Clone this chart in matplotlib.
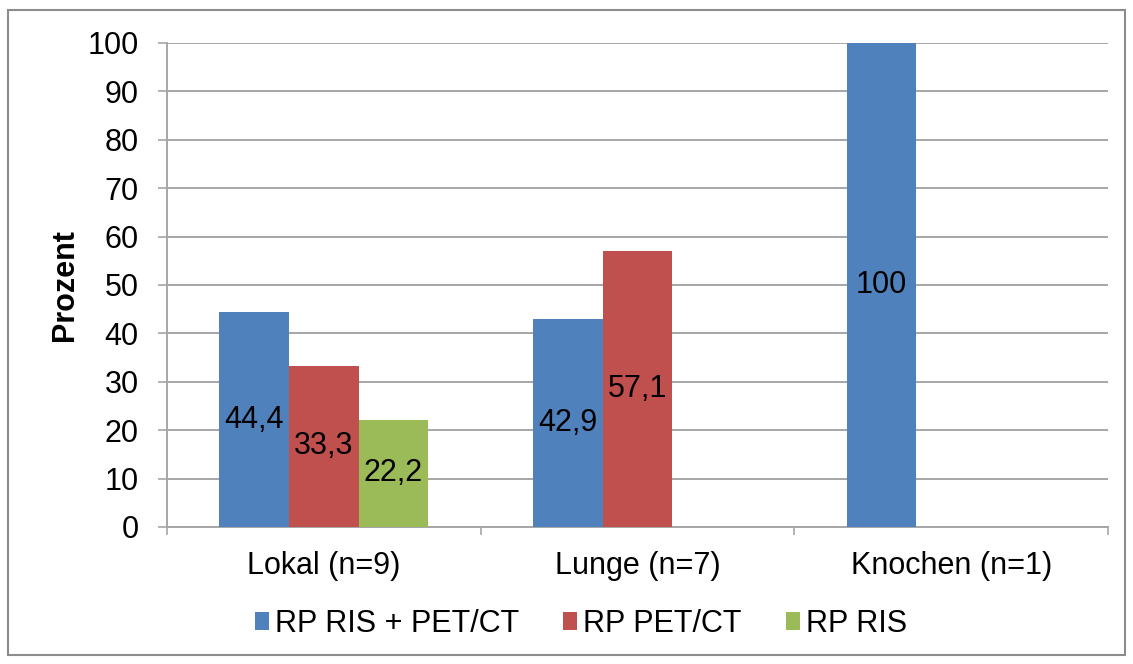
import numpy as np
import matplotlib
matplotlib.use("Agg")
import matplotlib.pyplot as plt
from matplotlib.patches import Rectangle, Patch
from matplotlib.ticker import FixedLocator

plt.rcParams['font.family'] = ['Liberation Sans', 'DejaVu Sans']

categories = ["Lokal (n=9)", "Lunge (n=7)", "Knochen (n=1)"]
series_names = ["RP RIS + PET/CT", "RP PET/CT", "RP RIS"]
values_ris_petct = [44.4, 42.9, 100.0]
values_petct = [33.3, 57.1, np.nan]
values_ris = [22.2, np.nan, np.nan]
y_ticks = [0, 10, 20, 30, 40, 50, 60, 70, 80, 90, 100]
y_label = "Prozent"

colors = ["#4F81BD", "#C0504D", "#9BBB59"]
series = [values_ris_petct, values_petct, values_ris]
FS = 22

fig = plt.figure(figsize=(11.33, 6.64), dpi=100)
ax = fig.add_axes([167/1133, 1-527/664, (1108-167)/1133, (527-43)/664])

x = np.arange(len(categories))
width = 1/4.5
offsets = [-width, 0, width]
for vals, col, off, name in zip(series, colors, offsets, series_names):
    bars = ax.bar(x + off, vals, width=width, color=col, label=name, zorder=3)
    labels = []
    for v in vals:
        if np.isnan(v):
            labels.append("")
        elif float(v).is_integer():
            labels.append(f"{int(v)}")
        else:
            labels.append(f"{v:.1f}".replace(".", ","))
    ax.bar_label(bars, labels=labels, label_type='center', fontsize=FS, color='black', zorder=4)

ax.set_xlim(-0.5, len(categories) - 0.5)
ax.set_ylim(0, 100)
ax.set_yticks(y_ticks)
ax.set_yticklabels([str(t) for t in y_ticks])
ax.set_xticks(x)
ax.set_xticklabels(categories)
ax.xaxis.set_minor_locator(FixedLocator(np.arange(-0.5, len(categories), 1.0)))

ax.grid(axis='y', color='#A6A6A6', linewidth=1.4, zorder=0)
ax.set_axisbelow(True)
for s in ['top', 'right']:
    ax.spines[s].set_visible(False)
for s in ['left', 'bottom']:
    ax.spines[s].set_color('#A6A6A6')
    ax.spines[s].set_linewidth(1.4)

ax.tick_params(axis='y', length=6.5, width=1.2, color='#A6A6A6', pad=14, labelsize=FS)
ax.tick_params(axis='x', which='major', length=0, pad=17, labelsize=FS)
ax.tick_params(axis='x', which='minor', length=6, width=1.2, color='#A6A6A6')

fig.text(65/1133, 1-285/664, y_label, rotation=90, fontsize=FS, fontweight='bold', ha='center', va='center')

handles = [Patch(facecolor=c, edgecolor='none') for c in colors]
fig.legend(handles, series_names, loc='center', bbox_to_anchor=(581/1133, 1-624/664), ncol=3,
           frameon=False, fontsize=FS, handlelength=0.45, handleheight=0.5,
           handletextpad=0.2, columnspacing=1.45)

fig.patches.append(Rectangle((8/1133, 1-655/664), (1125-8)/1133, (655-10)/664,
                             transform=fig.transFigure, fill=False, edgecolor='#8C8C8C', linewidth=1.5))

fig.savefig("out.png", dpi=100)
